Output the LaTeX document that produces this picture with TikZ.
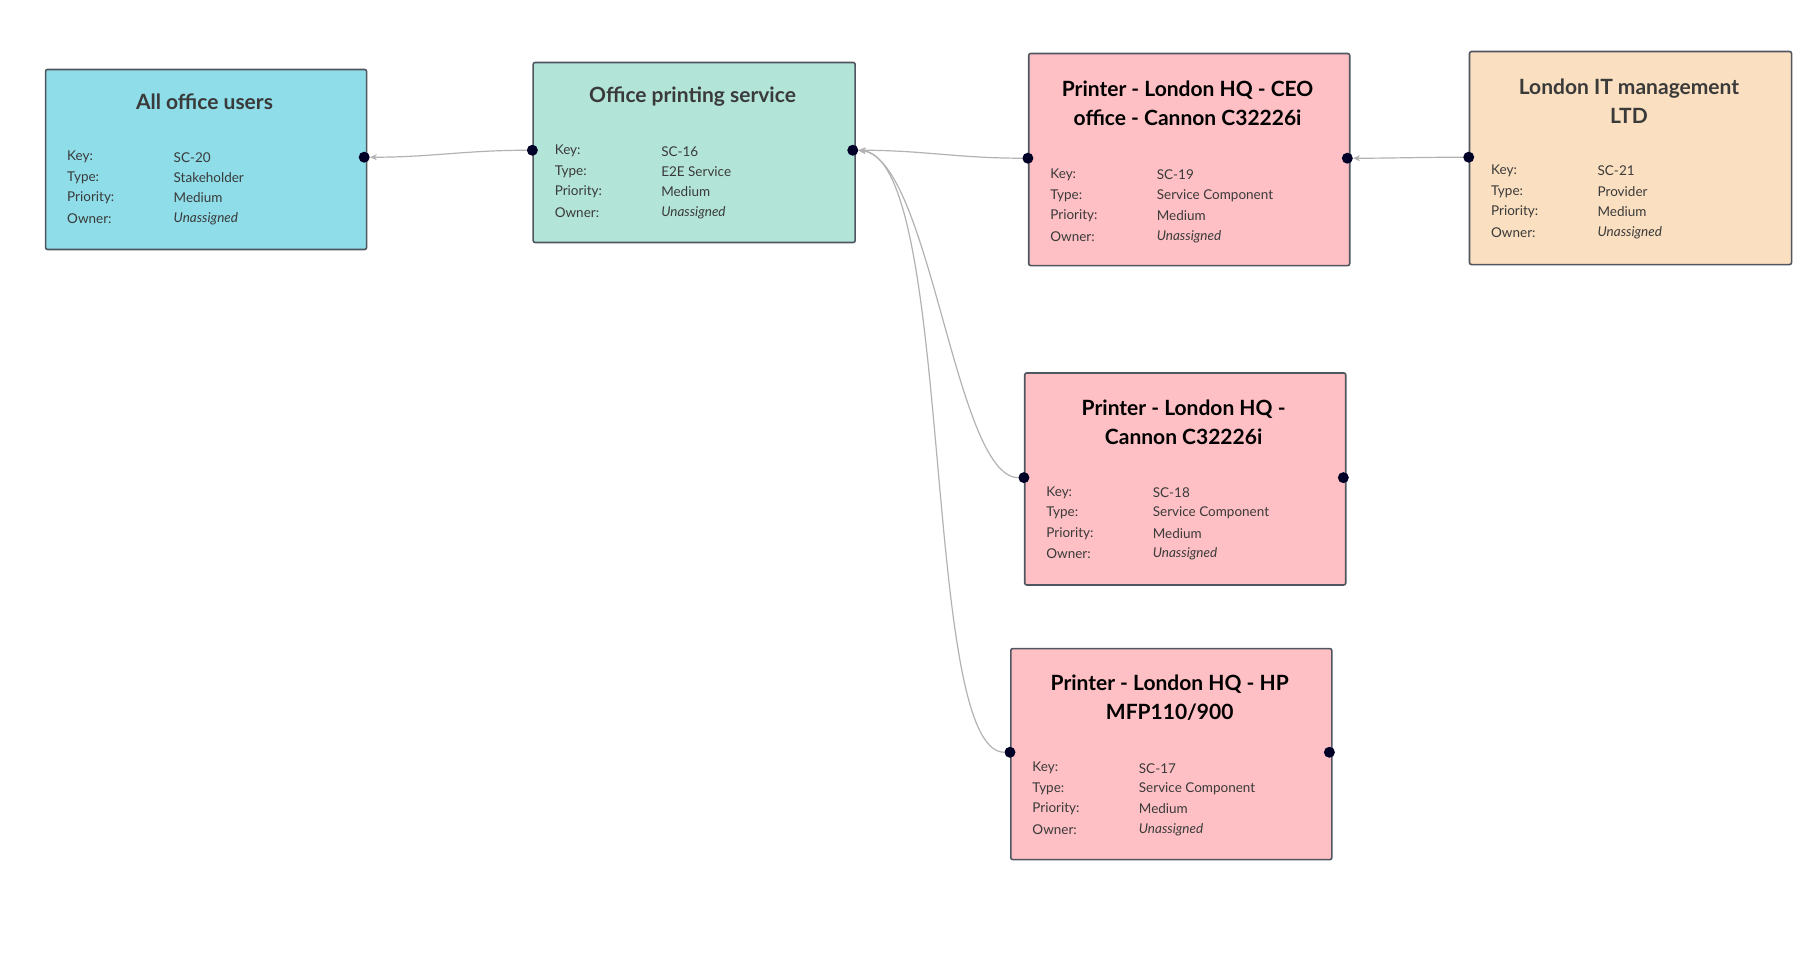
\documentclass[tikz,border=0pt]{standalone}
\usepackage{fontspec}
\setmainfont{Lato}
\usetikzlibrary{arrows.meta}
\definecolor{cyanb}{HTML}{8EDDE8}
\definecolor{tealb}{HTML}{B3E4D8}
\definecolor{pinkb}{HTML}{FEC0C4}
\definecolor{peachb}{HTML}{FADFC0}
\definecolor{edge}{HTML}{505660}
\definecolor{txt}{HTML}{3A3A3A}
\tikzset{
 card/.style={draw=edge,line width=1.6pt,rounded corners=2pt,anchor=north west,inner sep=0pt},
 ttl/.style={font=\bfseries\fontsize{21}{29}\selectfont,text=txt,align=center},
 fld/.style={font=\fontsize{13.5}{16}\selectfont,text=txt,anchor=west},
 dot/.style={circle,fill=black!85!blue,inner sep=0pt,minimum size=11pt},
 conn/.style={draw=black!30,line width=1.2pt,-{Stealth[length=7pt,width=6pt]}}
}
\newcommand\cardbox[9]{%
 \node[card,fill=#6,minimum width=#4pt,minimum height=#5pt] (#1) at (#2,#3) {};
 \foreach \lab/\val [count=\i] in {Key:/#8,Type:/#9,Priority:/Medium,Owner:/\textit{Unassigned}}{
   \pgfmathsetmacro\yy{#7+(\i-1)*20.5}
   \node[fld] at (#2+19,\yy) {\lab};
   \node[fld] at (#2+126,\yy) {\val};
 }}
\begin{document}
\begin{tikzpicture}[x=0.995pt,y=-0.995pt]
\useasboundingbox (0,0) rectangle (1823,965);
\cardbox{b1}{45}{69}{321}{180}{cyanb}{158}{SC-20}{Stakeholder}
\node[ttl] at (205.5,102) {All office users};
\cardbox{b2}{535}{62}{322}{180}{tealb}{152}{SC-16}{E2E Service}
\node[ttl] at (696,97) {Office printing service};
\cardbox{b3}{1033}{53}{321}{212}{pinkb}{176}{SC-19}{Service Component}
\node[ttl,text=black] at (1193.5,104) {Printer - London HQ - CEO\\office - Cannon C32226i};
\cardbox{b4}{1476}{51}{322}{213}{peachb}{172}{SC-21}{Provider}
\node[ttl] at (1637,102) {London IT management\\LTD};
\cardbox{b5}{1029}{374}{321}{212}{pinkb}{495}{SC-18}{Service Component}
\node[ttl,text=black] at (1189.5,424) {Printer - London HQ -\\Cannon C32226i};
\cardbox{b6}{1015}{651}{321}{211}{pinkb}{772}{SC-17}{Service Component}
\node[ttl,text=black] at (1175.5,701) {Printer - London HQ - HP\\MFP110/900};
\node[dot] (d1r) at (366,158) {};
\node[dot] (d2l) at (535,151) {};
\node[dot] (d2r) at (857,151) {};
\node[dot] (d3l) at (1033,159) {};
\node[dot] (d3r) at (1354,159) {};
\node[dot] (d4l) at (1476,158) {};
\node[dot] (d5l) at (1029,480) {};
\node[dot] (d5r) at (1350,480) {};
\node[dot] (d6l) at (1015,756) {};
\node[dot] (d6r) at (1336,756) {};
\draw[conn] (d2l.west) to[out=180,in=0] (d1r.east);
\draw[conn] (d3l.west) to[out=180,in=0] (d2r.east);
\draw[conn] (d4l.west) to[out=180,in=0] (d3r.east);
\draw[conn] (d5l.west) .. controls (960,480) and (935,160) .. (d2r.east);
\draw[conn] (d6l.west) .. controls (925,756) and (960,160) .. (d2r.east);
\end{tikzpicture}
\end{document}
